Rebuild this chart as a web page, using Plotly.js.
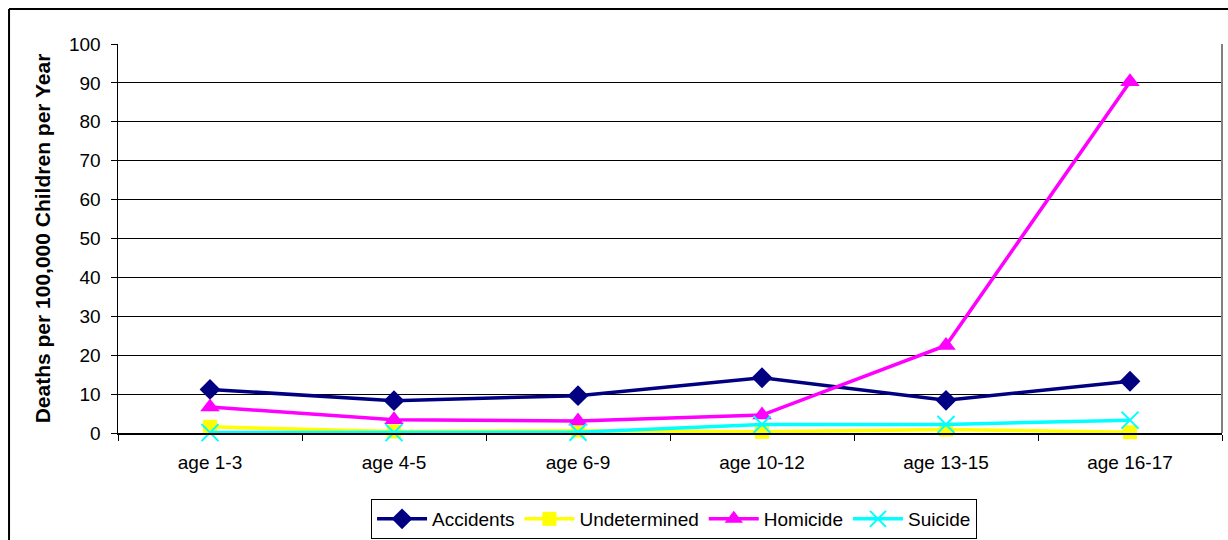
<!DOCTYPE html>
<html>
<head>
<meta charset="utf-8">
<script src="https://cdn.plot.ly/plotly-3.0.1.min.js"></script>
<style>
html,body{margin:0;padding:0;background:#fff;}
#chart{width:1228px;height:540px;}
</style>
</head>
<body>
<div id="chart"></div>
<script>
const categories = ["age 1-3", "age 4-5", "age 6-9", "age 10-12", "age 13-15", "age 16-17"];
const accidents = [11.2, 8.3, 9.6, 14.2, 8.4, 13.3];
const undetermined = [1.6, 0.4, 0.6, 0.3, 0.9, 0.2];
const homicide = [6.7, 3.4, 3.1, 4.6, 22.5, 90.3];
const suicide = [0.1, 0.1, 0.2, 2.2, 2.2, 3.3];
const yTicks = [0, 10, 20, 30, 40, 50, 60, 70, 80, 90, 100];
const yTitle = "Deaths per 100,000 Children per Year";

const FONT = "Liberation Sans, Arial, sans-serif";

const traces = [
  {name: "Accidents", x: categories, y: accidents, type: "scatter", mode: "lines+markers", cliponaxis: false,
   line: {color: "#000080", width: 3.5}, marker: {symbol: "diamond", size: 16, color: "#000080"}},
  {name: "Undetermined", x: categories, y: undetermined, type: "scatter", mode: "lines+markers", cliponaxis: false,
   line: {color: "#FFFF00", width: 3.5}, marker: {symbol: "square", size: 14, color: "#FFFF00"}},
  {name: "Homicide", x: categories, y: homicide, type: "scatter", mode: "lines+markers", cliponaxis: false,
   line: {color: "#FF00FF", width: 3.5}, marker: {symbol: "triangle-up", size: 17, color: "#FF00FF"}},
  {name: "Suicide", x: categories, y: suicide, type: "scatter", mode: "lines+markers", cliponaxis: false,
   line: {color: "#00FFFF", width: 3.5}, marker: {symbol: "x-thin", size: 17, color: "#00FFFF", line: {color: "#00FFFF", width: 2}}}
];

const layout = {
  width: 1228, height: 540,
  margin: {l: 118, r: 6, t: 44, b: 107},
  paper_bgcolor: "#ffffff", plot_bgcolor: "#ffffff",
  font: {family: FONT, size: 18, color: "#000"},
  showlegend: true,
  xaxis: {
    type: "category", categoryorder: "array", categoryarray: categories,
    range: [-0.5, 5.5],
    showgrid: false, zeroline: false,
    showline: true, linecolor: "#000", linewidth: 1.5,
    ticks: "outside", tickson: "boundaries", ticklen: 6, tickcolor: "#000", tickwidth: 1,
    ticklabelstandoff: 12,
    tickfont: {family: FONT, size: 19, color: "#000"}
  },
  yaxis: {
    range: [0, 100], tickvals: yTicks, ticktext: yTicks.map(String),
    showgrid: true, gridcolor: "#000", gridwidth: 1,
    zeroline: false,
    showline: true, linecolor: "#000", linewidth: 1.5,
    ticks: "outside", ticklen: 6, tickcolor: "#000",
    ticklabelstandoff: 6,
    tickfont: {family: FONT, size: 19, color: "#000"},
    title: {text: yTitle, font: {family: FONT, size: 21, color: "#000", weight: "bold"}, standoff: 12}
  },
  legend: {
    orientation: "h", xref: "container", yref: "container",
    x: 0.5489, xanchor: "center", y: 0.0759, yanchor: "top",
    bordercolor: "#000", borderwidth: 1, bgcolor: "#fff",
    font: {family: FONT, size: 19, color: "#000"},
    itemwidth: 50, tracegroupgap: 0
  },
  shapes: [
    {type: "line", xref: "paper", yref: "paper", x0: 1, x1: 1, y0: 0, y1: 1, line: {color: "#808080", width: 2}},
    {type: "line", xref: "paper", yref: "paper", x0: -0.0987, x1: -0.0987, y0: 1.09, y1: -0.3, line: {color: "#000", width: 2}},
    {type: "line", xref: "paper", yref: "paper", x0: -0.0987, x1: 1.01, y0: 1.09, y1: 1.09, line: {color: "#000", width: 2}}
  ]
};

Plotly.newPlot("chart", traces, layout, {displayModeBar: false, staticPlot: true});
</script>
</body>
</html>
